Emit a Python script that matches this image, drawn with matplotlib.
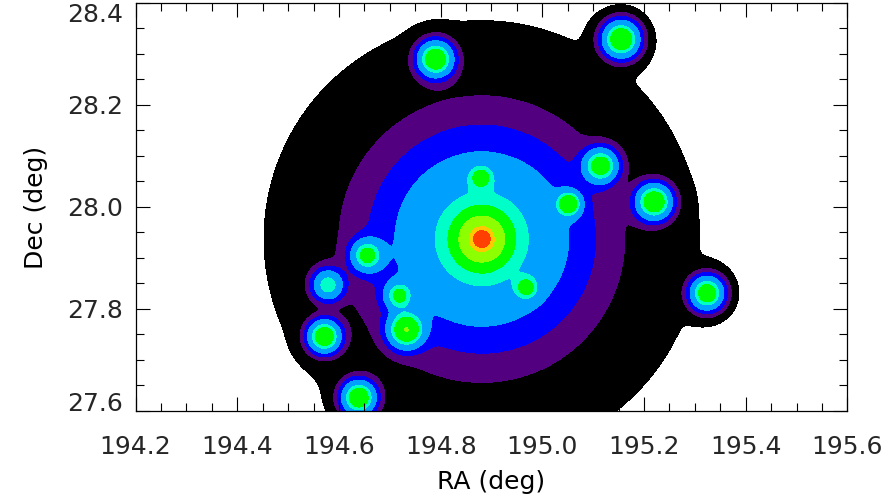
import numpy as np
import matplotlib
matplotlib.use("Agg")
import matplotlib.pyplot as plt
from matplotlib.ticker import MultipleLocator

# cluster core: three nested gaussian components (amplitude, width in deg)
core_ra, core_dec = 194.881, 27.937
core_amp = [0.0781, 0.64, 1.776]
core_sig = [0.2554, 0.1179, 0.0283]

# member galaxies
gal_ra = [194.790, 195.155, 195.115, 195.220, 195.324, 195.052, 194.879,
          194.969, 194.655, 194.578, 194.718, 194.732, 194.571, 194.639]
gal_dec = [28.290, 28.329, 28.081, 28.010, 27.831, 28.006, 28.059,
           27.841, 27.905, 27.847, 27.826, 27.759, 27.746, 27.626]
gal_amp = [1.05, 1.10, 0.92, 1.05, 1.00, 0.92, 0.51,
           0.53, 0.76, 0.65, 0.65, 1.04, 1.05, 1.05]
gal_sig = [0.0216, 0.0224, 0.0206, 0.0216, 0.0206, 0.0147, 0.0147,
           0.0141, 0.0192, 0.0192, 0.0171, 0.0216, 0.0196, 0.0206]

levels = [0.02, 0.08, 0.159, 0.286, 0.556, 0.732, 1.17, 1.93, 2.21, 10.0]
colors = ['#000000', '#520080', '#0000ff', '#00a0ff', '#00ffc8',
          '#00ff00', '#8cff00', '#ffc800', '#ff4000']

x = np.linspace(194.2, 195.6, 1100)
y = np.linspace(27.6, 28.4, 640)
X, Y = np.meshgrid(x, y)

Z = np.zeros_like(X)
r2 = (X - core_ra) ** 2 + (Y - core_dec) ** 2
for a, s in zip(core_amp, core_sig):
    Z += a * np.exp(-r2 / (2 * s ** 2))
for gx, gy, a, s in zip(gal_ra, gal_dec, gal_amp, gal_sig):
    Z += a * np.exp(-((X - gx) ** 2 + (Y - gy) ** 2) / (2 * s ** 2))

plt.rcParams['font.family'] = ['DejaVu Sans']
plt.rcParams['text.color'] = '#262626'
plt.rcParams['xtick.labelcolor'] = '#262626'
plt.rcParams['ytick.labelcolor'] = '#262626'

fig = plt.figure(figsize=(8.92, 4.99), dpi=100)
ax = fig.add_axes([0.1520, 0.1764, 0.7980, 0.8176])
ax.contourf(X, Y, Z, levels=levels, colors=colors)

ax.set_xlim(194.2, 195.6)
ax.set_ylim(27.6, 28.4)
ax.set_xticks([194.2, 194.4, 194.6, 194.8, 195.0, 195.2, 195.4, 195.6])
ax.set_yticks([27.6, 27.8, 28.0, 28.2, 28.4])
ax.xaxis.set_minor_locator(MultipleLocator(0.05))
ax.yaxis.set_minor_locator(MultipleLocator(0.05))
ax.tick_params(which='both', direction='in', top=True, right=True, width=0.8)
ax.tick_params(which='major', length=10)
ax.tick_params(which='minor', length=5.5)
ax.tick_params(axis='x', which='major', pad=17, labelsize=18)
ax.tick_params(axis='y', which='major', pad=9, labelsize=18)
for sp in ax.spines.values():
    sp.set_linewidth(0.9)

ylabs = ax.get_yticklabels()
ylabs[0].set_va('baseline')
ylabs[-1].set_va('top')

ax.set_xlabel('RA (deg)', fontsize=18, labelpad=8)
ax.set_ylabel('Dec (deg)', fontsize=18, labelpad=14)

fig.savefig('out.png', dpi=100)
